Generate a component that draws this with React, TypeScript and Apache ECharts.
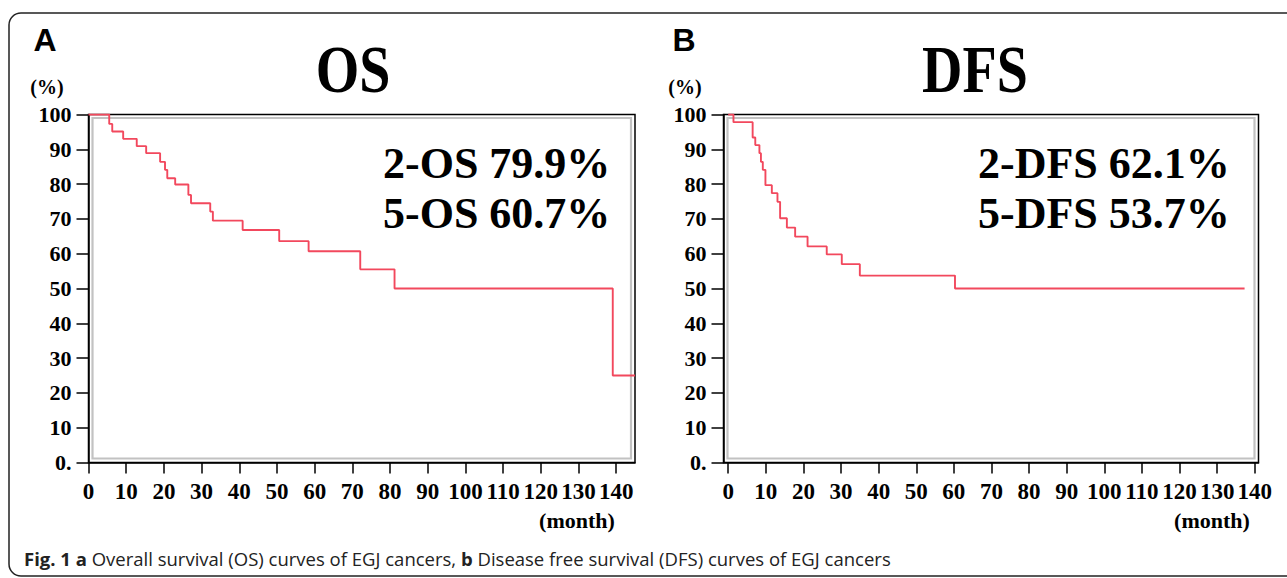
import React, { useEffect, useRef } from "react";
import * as echarts from "echarts";

// ---------- data ----------
const xTickValues = [0, 10, 20, 30, 40, 50, 60, 70, 80, 90, 100, 110, 120, 130, 140];

// Overall survival (months, % surviving after that time)
const osMonths = [0, 5.5, 6.3, 9.2, 12.8, 15.3, 19.0, 20.3, 20.9, 23.0, 26.5, 27.2, 32.3, 33.0, 40.9, 50.6, 58.4, 72.1, 81.2, 139.1, 145];
const osSurvival = [100, 97.3, 95.1, 93.0, 90.9, 88.9, 86.4, 84.1, 81.7, 79.9, 76.9, 74.5, 72.1, 69.5, 66.8, 63.6, 60.7, 55.5, 50.0, 25.0, 25.0];

// Disease free survival
const dfsMonths = [0, 1.4, 6.5, 7.2, 8.3, 8.7, 9.2, 9.9, 11.6, 13.1, 13.8, 15.6, 17.8, 21.1, 26.2, 30.2, 35.0, 60.3, 137.3];
const dfsSurvival = [100, 97.8, 93.4, 91.2, 88.9, 86.4, 84.1, 79.7, 77.4, 74.9, 70.2, 67.5, 64.9, 62.1, 59.8, 57.0, 53.7, 50.0, 50.0];

const panelLetters = ["A", "B"];
const panelTitles = ["OS", "DFS"];
const rateTexts = [
  ["2-OS 79.9%", "5-OS 60.7%"],
  ["2-DFS 62.1%", "5-DFS 53.7%"],
];
const yUnit = "(%)";
const xUnit = "(month)";
const captionText =
  "{b|Fig. 1 a} Overall survival (OS) curves of EGJ cancers, {b|b} Disease free survival (DFS) curves of EGJ cancers";

// ---------- layout ----------
const W = 1287;
const H = 578;
const grids = [
  { left: 88.5, top: 114.5, width: 546.5, height: 348, xMin: 0, xMax: 145 },
  { left: 723.5, top: 114.5, width: 535, height: 348, xMin: -1.25, xMax: 141 },
];
const SERIF = "'Liberation Serif', 'Times New Roman', serif";
const SANS = "'Liberation Sans', Arial, sans-serif";
const CAPTION_FONT = "'Open Sans', 'Noto Sans', sans-serif";
const RED = "#f2485d";

function toPairs(xs: number[], ys: number[]) {
  return xs.map((x, i) => [x, ys[i]]);
}

export default function App() {
  const ref = useRef<HTMLDivElement>(null);

  useEffect(() => {
    if (!ref.current) return;
    const chart = echarts.init(ref.current, null, { renderer: "svg" });

    const xAxes = grids.map((g, i) => ({
      type: "value",
      gridIndex: i,
      min: g.xMin,
      max: g.xMax,
      axisLine: { show: true, onZero: false, lineStyle: { color: "#000", width: 1.5 } },
      axisTick: { show: true, length: 11, customValues: xTickValues, lineStyle: { color: "#000", width: 1.5 } },
      axisLabel: {
        customValues: xTickValues,
        margin: 17,
        color: "#000",
        fontFamily: SERIF,
        fontWeight: "bold",
        fontSize: 23,
      },
      splitLine: { show: false },
    }));

    const yAxes = grids.map((g, i) => ({
      type: "value",
      gridIndex: i,
      min: 0,
      max: 100,
      interval: 10,
      axisLine: { show: true, onZero: false, lineStyle: { color: "#000", width: 1.5 } },
      axisTick: { show: true, length: 12, lineStyle: { color: "#000", width: 1.5 } },
      axisLabel: {
        margin: 17,
        color: "#000",
        fontFamily: SERIF,
        fontWeight: "bold",
        fontSize: 22,
        formatter: (v: number) => (v === 0 ? "0." : String(v)),
      },
      splitLine: { show: false },
    }));

    const graphics: any[] = [
      {
        type: "rect",
        shape: { x: 9, y: 13, width: 1320, height: 563, r: 12 },
        style: { fill: "none", stroke: "#222", lineWidth: 1.5 },
        silent: true,
      },
    ];

    const titleCenters = [353, 975];
    const letterX = [45, 684];
    const unitX = [47, 685];
    const rateX = [383, 978];
    const monthX = [577, 1212];

    grids.forEach((g, i) => {
      graphics.push({
        type: "rect",
        z: 1,
        shape: { x: g.left + 4, y: g.top + 3.5, width: g.width - 8, height: g.height - 7.5 },
        style: { fill: "none", stroke: "#c2c2c2", lineWidth: 2.2 },
        silent: true,
      });
      graphics.push({
        type: "text",
        x: letterX[i],
        y: 40,
        style: { text: panelLetters[i], font: `bold 32px ${SANS}`, fill: "#000", align: "center", verticalAlign: "middle" },
      });
      graphics.push({
        type: "text",
        x: titleCenters[i],
        y: 69,
        scaleY: 1.2,
        style: { text: panelTitles[i], font: `bold 56px ${SERIF}`, fill: "#000", align: "center", verticalAlign: "middle" },
      });
      graphics.push({
        type: "text",
        x: unitX[i],
        y: 87,
        style: { text: yUnit, font: `bold 20px ${SERIF}`, fill: "#000", align: "center", verticalAlign: "middle" },
      });
      rateTexts[i].forEach((t, k) => {
        graphics.push({
          type: "text",
          x: rateX[i],
          y: 163 + k * 50,
          style: { text: t, font: `bold 44px ${SERIF}`, fill: "#000", align: "left", verticalAlign: "middle" },
        });
      });
      graphics.push({
        type: "text",
        x: monthX[i],
        y: 520,
        style: { text: xUnit, font: `bold 22px ${SERIF}`, fill: "#000", align: "center", verticalAlign: "middle" },
      });
    });

    graphics.push({
      type: "text",
      x: 24,
      y: 558,
      style: {
        text: captionText,
        fontFamily: CAPTION_FONT,
        fontSize: 18.5,
        fill: "#222",
        align: "left",
        verticalAlign: "middle",
        rich: {
          b: { fontFamily: CAPTION_FONT, fontSize: 18.5, fontWeight: "bold", fill: "#222" },
        },
      },
    });

    chart.setOption({
      animation: false,
      backgroundColor: "#fff",
      grid: grids.map((g) => ({
        left: g.left,
        top: g.top,
        width: g.width,
        height: g.height,
        show: true,
        borderColor: "#000",
        borderWidth: 1.5,
        backgroundColor: "transparent",
      })),
      xAxis: xAxes,
      yAxis: yAxes,
      series: [
        {
          type: "line",
          xAxisIndex: 0,
          yAxisIndex: 0,
          step: "end",
          symbol: "none",
          z: 5,
          lineStyle: { color: RED, width: 1.9 },
          data: toPairs(osMonths, osSurvival),
        },
        {
          type: "line",
          xAxisIndex: 1,
          yAxisIndex: 1,
          step: "end",
          symbol: "none",
          z: 5,
          lineStyle: { color: RED, width: 1.9 },
          data: toPairs(dfsMonths, dfsSurvival),
        },
      ],
      graphic: graphics,
    });

    return () => chart.dispose();
  }, []);

  return (
    <div
      ref={ref}
      style={{ position: "absolute", left: 0, top: 0, width: W, height: H, background: "#fff" }}
    />
  );
}
